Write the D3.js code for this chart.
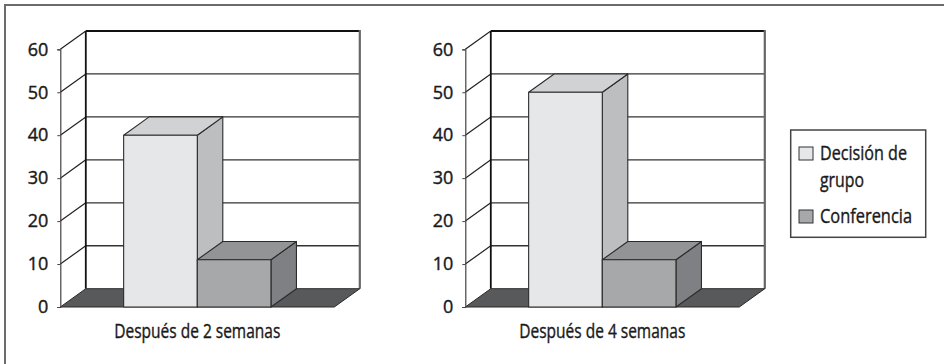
<!DOCTYPE html>
<html>
<head>
<meta charset="utf-8">
<script src="https://cdn.jsdelivr.net/npm/d3@7"></script>
<style>
  html, body { margin: 0; padding: 0; background: #fff; }
  svg { display: block; }
  text { font-family: "Open Sans", "Noto Sans", sans-serif; fill: #1a1a1a; stroke: #1a1a1a; stroke-width: 0.4px; }
</style>
</head>
<body>
<svg id="chart" width="945" height="364"></svg>
<script>
// Data
const categories = ["Después de 2 semanas", "Después de 4 semanas"];
const seriesNames = ["Decisión de grupo", "Conferencia"];
const decisionValues = [40, 50];
const conferenceValues = [11, 11];
const yTicks = [0, 10, 20, 30, 40, 50, 60];

// Face colours per series: front, top, side
const palette = [
  { front: "#e6e7e8", top: "#d1d2d4", side: "#bdbec0" },
  { front: "#a7a8aa", top: "#939496", side: "#7f8083" }
];

const svg = d3.select("#chart");

// Condensed text: a humanist sans squeezed to a fixed run length
function condensed(sel, str, width) {
  sel.text(str).attr("textLength", width).attr("lengthAdjust", "spacingAndGlyphs");
  return sel;
}

// Outer frame (top and left edges)
svg.append("line").attr("x1", 5).attr("y1", 5).attr("x2", 944).attr("y2", 5)
  .attr("stroke", "#6b6b6b").attr("stroke-width", 2);
svg.append("line").attr("x1", 5).attr("y1", 4).attr("x2", 5).attr("y2", 364)
  .attr("stroke", "#6b6b6b").attr("stroke-width", 2);

// Shared geometry for each panel
const plotW = 274;
const depthX = 25.5, depthY = 18.3;
const y = d3.scaleLinear().domain([0, 60]).range([307, 49.3]);
const panelX = [60.3, 465.3];

function poly(points) {
  return "M" + points.map(p => p.join(",")).join("L") + "Z";
}

function drawPanel(i) {
  const x0 = panelX[i];
  const g = svg.append("g");
  const x = d3.scaleBand().domain(seriesNames).range([x0, x0 + plotW])
    .paddingInner(0).paddingOuter(0.86);
  const values = [decisionValues[i], conferenceValues[i]];

  // Back wall
  g.append("rect")
    .attr("x", x0 + depthX).attr("y", y(60) - depthY)
    .attr("width", plotW).attr("height", y(0) - y(60))
    .attr("fill", "#fff");

  // Gridlines on back wall and left wall
  yTicks.forEach(t => {
    if (t === 0) return;
    g.append("line")
      .attr("x1", x0 + depthX).attr("x2", x0 + depthX + plotW)
      .attr("y1", y(t) - depthY).attr("y2", y(t) - depthY)
      .attr("stroke", t === 60 ? "#111" : "#333")
      .attr("stroke-width", t === 60 ? 2.2 : 1.3);
    g.append("line")
      .attr("x1", x0).attr("y1", y(t))
      .attr("x2", x0 + depthX).attr("y2", y(t) - depthY)
      .attr("stroke", "#222").attr("stroke-width", 1.2);
  });

  // Back wall edges
  g.append("line")
    .attr("x1", x0 + depthX).attr("x2", x0 + depthX)
    .attr("y1", y(60) - depthY).attr("y2", y(0) - depthY)
    .attr("stroke", "#111").attr("stroke-width", 1.8);
  g.append("line")
    .attr("x1", x0 + depthX + plotW).attr("x2", x0 + depthX + plotW)
    .attr("y1", y(60) - depthY - 1).attr("y2", y(0) - depthY)
    .attr("stroke", "#666").attr("stroke-width", 2.2);

  // Floor
  g.append("path")
    .attr("d", poly([[x0, y(0)], [x0 + plotW, y(0)],
      [x0 + plotW + depthX, y(0) - depthY], [x0 + depthX, y(0) - depthY]]))
    .attr("fill", "#58595b").attr("stroke", "#2a2a2a").attr("stroke-width", 1);

  // Value axis with ticks
  const axis = d3.axisLeft(y).tickValues(yTicks).tickSize(3).tickPadding(9);
  const ag = g.append("g").attr("transform", `translate(${x0},0)`).call(axis);
  ag.select(".domain").attr("stroke", "#444").attr("stroke-width", 1.2);
  ag.selectAll(".tick line").attr("stroke", "#444");
  ag.selectAll(".tick text")
    .attr("font-size", 18).attr("fill", "#1a1a1a")
    .style("font-family", '"Open Sans", "Noto Sans", sans-serif');

  // 3D bars
  seriesNames.forEach((s, k) => {
    const bx = x(s), bw = x.bandwidth();
    const top = y(values[k]), base = y(0);
    const c = palette[k];
    const bar = g.append("g").attr("stroke", "#2b2b2b").attr("stroke-width", 1.1)
      .attr("stroke-linejoin", "round");
    bar.append("path")
      .attr("d", poly([[bx + bw, top], [bx + bw + depthX, top - depthY],
        [bx + bw + depthX, base - depthY], [bx + bw, base]]))
      .attr("fill", c.side);
    bar.append("path")
      .attr("d", poly([[bx, top], [bx + depthX, top - depthY],
        [bx + bw + depthX, top - depthY], [bx + bw, top]]))
      .attr("fill", c.top);
    bar.append("rect")
      .attr("x", bx).attr("y", top).attr("width", bw).attr("height", base - top)
      .attr("fill", c.front);
  });

  // Category label
  condensed(g.append("text")
    .attr("x", x0 + plotW / 2 - 83).attr("y", 338)
    .attr("font-size", 20.5), categories[i], 166);
}

categories.forEach((_, i) => drawPanel(i));

// Legend
const legend = svg.append("g");
legend.append("rect")
  .attr("x", 790.7).attr("y", 130).attr("width", 135).attr("height", 107.3)
  .attr("fill", "#fff").attr("stroke", "#444").attr("stroke-width", 1.5);

const legendLines = [[["Decisión de", 87], ["grupo", 44]], [["Conferencia", 92]]];
const legendY = [153, 216];
seriesNames.forEach((s, k) => {
  legend.append("rect")
    .attr("x", 799).attr("y", legendY[k] - 6).attr("width", 14).attr("height", 13)
    .attr("fill", palette[k].front).attr("stroke", "#333").attr("stroke-width", 1);
  legendLines[k].forEach(([ln, w], j) => {
    condensed(legend.append("text")
      .attr("x", 820).attr("y", legendY[k] + 7 + j * 27.4)
      .attr("font-size", 20.5), ln, w);
  });
});
</script>
</body>
</html>
